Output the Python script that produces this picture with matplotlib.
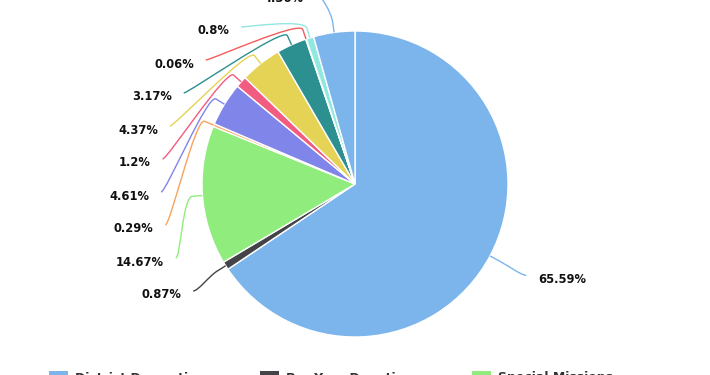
import numpy as np
import matplotlib.pyplot as plt
from matplotlib.path import Path
from matplotlib.patches import PathPatch, Rectangle

# slice values, clockwise from 12 o'clock
values = [65.59, 0.87, 14.67, 0.29, 4.61, 1.2, 4.37, 3.17, 0.06, 0.8, 4.36]
colors = ['#7cb5ec', '#434348', '#90ed7d', '#f7a35c', '#8085e9', '#f15c80',
          '#e4d354', '#2b908f', '#f45b5b', '#91e8e1', '#7cb5ec']
labels = ['%g%%' % v for v in values]
legend_names = ['District Domestic', 'Per Year Donations', 'Special Missions']

W, H = 710, 375
cx, cy = 355, 191          # pie centre (data units = pixels, y up)
r = 153                    # pie radius
R = 194                    # radius where connectors end
step = 33                  # vertical spacing of stacked labels
y_top = H + 6              # highest allowed label position
fs = 8.3                   # ~11.5px bold labels

fig = plt.figure(figsize=(W / 100, H / 100), dpi=100)
ax = fig.add_axes([0, 0, 1, 1])
ax.pie(values, colors=colors, startangle=90, counterclock=False,
       radius=r, center=(cx, cy),
       wedgeprops=dict(edgecolor='white', linewidth=1))
ax.set_xlim(0, W)
ax.set_ylim(0, H)
ax.set_aspect('equal')
ax.axis('off')

# mid angle of every slice, clockwise from top
frac = np.array(values) / sum(values) * 360
mids = np.cumsum(frac) - frac / 2


def polar(rad, ang):
    a = np.radians(ang)
    return cx + rad * np.sin(a), cy + rad * np.cos(a)


# ideal label y, then push overlapping labels apart (top down)
left = [i for i in range(len(values)) if np.sin(np.radians(mids[i])) < 0]
right = [i for i in range(len(values)) if i not in left]
label_y = {}
for side in (left, right):
    order = sorted(side, key=lambda i: -polar(R, mids[i])[1])
    prev = None
    for i in order:
        y = min(polar(R, mids[i])[1], y_top)
        if prev is not None:
            y = min(y, prev - step)
        label_y[i] = y
        prev = y

for i in range(len(values)):
    y = label_y[i]
    dx = np.sqrt(max(R ** 2 - (y - cy) ** 2, 0))
    is_left = i in left
    x = cx - dx if is_left else cx + dx
    tx, ty = polar(r, mids[i])
    bx, by = polar(r + 10, mids[i])
    verts = [(x, y), (x + (5 if is_left else -5), y),
             (2 * bx - tx, 2 * by - ty), (bx, by), (tx, ty)]
    codes = [Path.MOVETO, Path.CURVE4, Path.CURVE4, Path.CURVE4, Path.LINETO]
    ax.add_patch(PathPatch(Path(verts, codes), fill=False,
                           edgecolor=colors[i], linewidth=1, clip_on=False))
    ax.text(x - 12 if is_left else x + 12, y - 4, labels[i],
            ha='right' if is_left else 'left', va='center',
            fontsize=fs, fontweight='bold', color='#111111')

# legend row, mostly cut off at the bottom edge
legend_x = [49, 260, 472]
for name, col, lx in zip(legend_names, colors[:3], legend_x):
    ax.add_patch(Rectangle((lx, H - 371 - 19), 19, 19, facecolor=col,
                           edgecolor='none', clip_on=False))
    ax.text(lx + 26, H - 371.5, name, ha='left', va='top',
            fontsize=9, fontweight='bold', color='#333333')

fig.savefig('out.png', dpi=100)
